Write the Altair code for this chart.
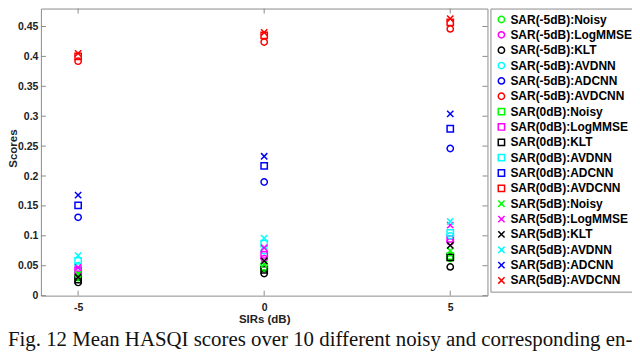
import altair as alt
import pandas as pd

# ---------------- data ----------------
sirs = [-5, 0, 5]
methods = ["Noisy", "LogMMSE", "KLT", "AVDNN", "ADCNN", "AVDCNN"]
method_colors = ["#00ff00", "#ff00ff", "#000000", "#00ffff", "#0000ff", "#ff0000"]
sar_levels = ["-5dB", "0dB", "5dB"]

# scores at SIR -5, 0, 5 dB
sar_m5_noisy = [0.030, 0.045, 0.062]
sar_m5_logmmse = [0.036, 0.062, 0.090]
sar_m5_klt = [0.022, 0.037, 0.048]
sar_m5_avdnn = [0.050, 0.075, 0.100]
sar_m5_adcnn = [0.131, 0.190, 0.246]
sar_m5_avdcnn = [0.392, 0.424, 0.446]

sar_0_noisy = [0.033, 0.048, 0.066]
sar_0_logmmse = [0.042, 0.068, 0.095]
sar_0_klt = [0.027, 0.043, 0.064]
sar_0_avdnn = [0.058, 0.087, 0.105]
sar_0_adcnn = [0.151, 0.217, 0.279]
sar_0_avdcnn = [0.400, 0.435, 0.457]

sar_5_noisy = [0.036, 0.052, 0.075]
sar_5_logmmse = [0.047, 0.080, 0.118]
sar_5_klt = [0.031, 0.058, 0.084]
sar_5_avdnn = [0.067, 0.096, 0.124]
sar_5_adcnn = [0.168, 0.233, 0.304]
sar_5_avdcnn = [0.405, 0.440, 0.463]

y_ticks = [0, 0.05, 0.1, 0.15, 0.2, 0.25, 0.3, 0.35, 0.4, 0.45]
x_ticks = [-5, 0, 5]
caption = "Fig. 12  Mean HASQI scores over 10 different noisy and corresponding en-"

series_values = {
    "-5dB": [sar_m5_noisy, sar_m5_logmmse, sar_m5_klt, sar_m5_avdnn, sar_m5_adcnn, sar_m5_avdcnn],
    "0dB": [sar_0_noisy, sar_0_logmmse, sar_0_klt, sar_0_avdnn, sar_0_adcnn, sar_0_avdcnn],
    "5dB": [sar_5_noisy, sar_5_logmmse, sar_5_klt, sar_5_avdnn, sar_5_adcnn, sar_5_avdcnn],
}
level_shapes = {
    "-5dB": "circle",
    "0dB": "square",
    "5dB": "M-1,-1L1,1M-1,1L1,-1",
}

rows = []
names, colors, shapes = [], [], []
for lvl in sar_levels:
    for m, col, vals in zip(methods, method_colors, series_values[lvl]):
        name = f"SAR({lvl}):{m}"
        names.append(name)
        colors.append(col)
        shapes.append(level_shapes[lvl])
        for s, v in zip(sirs, vals):
            rows.append({"series": name, "sir": s, "score": v})
df = pd.DataFrame(rows)

W, H = 448, 288
GRAY = "#8c8c8c"
FONT = "Liberation Sans"

xscale = alt.Scale(domain=[-6, 6], nice=False, zero=False)
yscale = alt.Scale(domain=[0, 0.48], nice=False, zero=False)

xaxis = alt.Axis(values=x_ticks, ticks=False, domain=False, grid=False,
                 labelOverlap=False,
                 labelFont=FONT, labelFontWeight="bold", labelFontSize=10.5,
                 labelColor="#222", labelPadding=7, labelExpr="toString(datum.value)",
                 title="SIRs (dB)", titleFont=FONT, titleFontWeight="bold",
                 titleFontSize=11.5, titleColor="#222", titleBaseline="alphabetic",
                 titleY=27)
yaxis = alt.Axis(values=y_ticks, ticks=False, domain=False, grid=False, format="~g",
                 labelOverlap=False,
                 labelFont=FONT, labelFontWeight="bold", labelFontSize=10.5,
                 labelColor="#222", labelPadding=3,
                 title="Scores", titleFont=FONT, titleFontWeight="bold",
                 titleFontSize=11.5, titleColor="#222", titleBaseline="alphabetic",
                 titleAngle=-90, titleX=-24.5, titleY=140)

points = alt.Chart(df).mark_point(filled=False, strokeWidth=1.5, size=40, opacity=1).encode(
    x=alt.X("sir:Q", scale=xscale, axis=xaxis, title="SIRs (dB)"),
    y=alt.Y("score:Q", scale=yscale, axis=yaxis, title="Scores"),
    color=alt.Color("series:N", scale=alt.Scale(domain=names, range=colors),
                    legend=alt.Legend(title=None, orient="none", legendX=451, legendY=0,
                                      strokeColor=GRAY, fillColor="white", padding=5,
                                      labelFont=FONT, labelFontWeight="bold", labelFontSize=12,
                                      labelColor="black", symbolSize=40, symbolStrokeWidth=1.5,
                                      rowPadding=1.4, labelOffset=3, labelLimit=200)),
    shape=alt.Shape("series:N", scale=alt.Scale(domain=names, range=shapes)),
)

ydf = pd.DataFrame({"score": y_ticks})
xdf = pd.DataFrame({"sir": x_ticks})
tick_left = alt.Chart(ydf).mark_rule(color=GRAY, strokeWidth=1).encode(
    y=alt.Y("score:Q", scale=yscale, axis=yaxis, title="Scores"), x=alt.value(0), x2=alt.value(5))
tick_right = alt.Chart(ydf).mark_rule(color=GRAY, strokeWidth=1).encode(
    y=alt.Y("score:Q", scale=yscale, axis=yaxis, title="Scores"), x=alt.value(W - 5), x2=alt.value(W))
tick_bottom = alt.Chart(xdf).mark_rule(color=GRAY, strokeWidth=1).encode(
    x=alt.X("sir:Q", scale=xscale, axis=xaxis, title="SIRs (dB)"), y=alt.value(H - 5), y2=alt.value(H))
tick_top = alt.Chart(xdf).mark_rule(color=GRAY, strokeWidth=1).encode(
    x=alt.X("sir:Q", scale=xscale, axis=xaxis, title="SIRs (dB)"), y=alt.value(0), y2=alt.value(5))

cap = alt.Chart(pd.DataFrame({"t": [caption]})).mark_text(
    align="left", baseline="alphabetic", font="Liberation Serif", fontSize=20.9,
    color="#111").encode(text="t:N", x=alt.value(-33), y=alt.value(339))

chart = alt.layer(points, tick_left, tick_right, tick_bottom, tick_top, cap).properties(
    width=W, height=H,
    autosize=alt.AutoSizeParams(type="none"),
    padding={"left": 33, "top": 0, "right": 145, "bottom": 56},
).configure_view(stroke=GRAY, strokeWidth=1)

chart.save("out.html", embed_options={"renderer": "svg", "actions": False})
